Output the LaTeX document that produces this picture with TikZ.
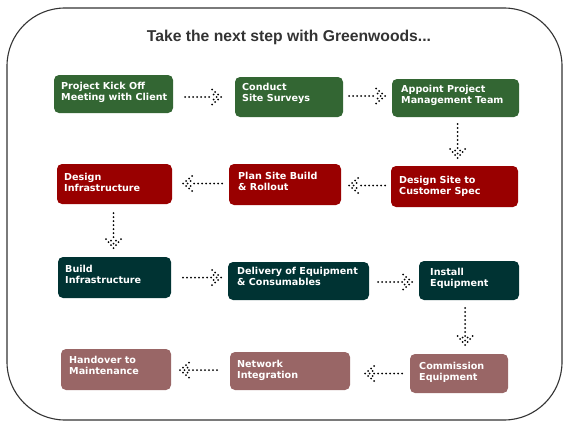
\documentclass[tikz,border=0pt]{standalone}
\usepackage{fontspec}
\setmainfont{DejaVu Sans}
\newfontfamily\titlefont{Liberation Sans}
\usetikzlibrary{calc,decorations.markings}
\definecolor{cgreen}{HTML}{336633}
\definecolor{cred}{HTML}{990000}
\definecolor{cteal}{HTML}{003333}
\definecolor{cmauve}{HTML}{996666}
\definecolor{cframe}{HTML}{333333}
\tikzset{
  box/.style={draw=none, rounded corners=5pt, inner sep=0pt, outer sep=0pt, anchor=north west},
  lbl/.style={anchor=north west, inner sep=0pt, text=white, align=left, font=\fontsize{9.6}{11.5}\selectfont\bfseries},
  darrow/.style={draw=none,
    postaction={decorate},
    decoration={markings,
      mark=between positions 0 and -9pt step 4pt with {\fill[black] (0,0) circle (1pt);},
      mark=at position 1 with {
      \foreach \p in {(0,0),(-3,2.5),(-6,5),(-9,7.5),(-3,-2.5),(-6,-5),(-9,-7.5),(-4.5,0),(-7.5,2.5),(-7.5,-2.5)}
        \fill[black] \p circle (1pt);
    }}},
}
\begin{document}
\begin{tikzpicture}[x=1pt,y=-1pt]
\useasboundingbox (0,0) rectangle (570,428);
\draw[cframe, line width=1.1pt, rounded corners=58pt] (7,8) rectangle (562,420);
\node[font=\titlefont\fontsize{15.7}{18}\selectfont\bfseries, text=cframe] (title) at (289,37) {Take the next step with Greenwoods...};
% row 1
\node[box, fill=cgreen, minimum width=119pt, minimum height=38pt] (b1) at (54,75) {};
\node[box, fill=cgreen, minimum width=108pt, minimum height=40pt] (b2) at (235,77) {};
\node[box, fill=cgreen, minimum width=127pt, minimum height=38pt] (b3) at (392,79) {};
% row 2
\node[box, fill=cred, minimum width=127pt, minimum height=41pt] (c1) at (391,166) {};
\node[box, fill=cred, minimum width=112pt, minimum height=41pt] (c2) at (229,164) {};
\node[box, fill=cred, minimum width=115pt, minimum height=40pt] (c3) at (57,164) {};
% row 3
\node[box, fill=cteal, minimum width=113pt, minimum height=41pt] (d1) at (58,257) {};
\node[box, fill=cteal, minimum width=141pt, minimum height=38pt] (d2) at (228,262) {};
\node[box, fill=cteal, minimum width=100pt, minimum height=39pt] (d3) at (419,261) {};
% row 4
\node[box, fill=cmauve, minimum width=98pt, minimum height=39pt] (e1) at (410,354) {};
\node[box, fill=cmauve, minimum width=120pt, minimum height=38pt] (e2) at (230,352) {};
\node[box, fill=cmauve, minimum width=110pt, minimum height=41pt] (e3) at (61,349) {};
% labels
\node[lbl] (t1) at ($(b1.north west)+(7,7)$) {Project Kick Off\\Meeting with Client};
\node[lbl] (t2) at ($(b2.north west)+(7,6)$) {Conduct\\Site Surveys};
\node[lbl] (t3) at ($(b3.north west)+(9,6)$) {Appoint Project\\Management Team};
\node[lbl] (u1) at ($(c1.north west)+(8,10)$) {Design Site to\\Customer Spec};
\node[lbl] (u2) at ($(c2.north west)+(9,8)$) {Plan Site Build\\\& Rollout};
\node[lbl] (u3) at ($(c3.north west)+(7,9)$) {Design\\Infrastructure};
\node[lbl] (v1) at ($(d1.north west)+(7,8)$) {Build\\Infrastructure};
\node[lbl] (v2) at ($(d2.north west)+(9,5)$) {Delivery of Equipment\\\& Consumables};
\node[lbl] (v3) at ($(d3.north west)+(11,7)$) {Install\\Equipment};
\node[lbl] (w1) at ($(e1.north west)+(9,8)$) {Commission\\Equipment};
\node[lbl] (w2) at ($(e2.north west)+(7,8)$) {Network\\Integration};
\node[lbl] (w3) at ($(e3.north west)+(8,7)$) {Handover to\\Maintenance};
% arrow end points
\coordinate (a1s) at ($(b1.east)+(12,3)$);
\coordinate (a1e) at ($(b2.west)+(-14,0)$);
\coordinate (a2s) at ($(b2.east)+(6,-1)$);
\coordinate (a2e) at ($(b3.west)+(-7,-2)$);
\coordinate (a3s) at ($(b3.south)+(2,7)$);
\coordinate (a3e) at ($(c1.north)+(2,-8)$);
\coordinate (a4s) at ($(c1.west)+(-6,-1)$);
\coordinate (a4e) at ($(c2.east)+(8,1)$);
\coordinate (a5s) at ($(c2.west)+(-7,-1)$);
\coordinate (a5e) at ($(c3.east)+(11,-1)$);
\coordinate (a6s) at ($(c3.south)+(-1,9)$);
\coordinate (a6e) at ($(d1.north)+(-1,-9)$);
\coordinate (a7s) at ($(d1.east)+(12,0)$);
\coordinate (a7e) at ($(d2.west)+(-7,-4)$);
\coordinate (a8s) at ($(d2.east)+(9,1)$);
\coordinate (a8e) at ($(d3.west)+(-7,1)$);
\coordinate (a9s) at ($(d3.south)+(-4,8)$);
\coordinate (a9e) at ($(e1.north)+(6,-9)$);
\coordinate (a10s) at ($(e1.west)+(-8,0)$);
\coordinate (a10e) at ($(e2.east)+(15,2)$);
\coordinate (a11s) at ($(e2.west)+(-13,-1)$);
\coordinate (a11e) at ($(e3.east)+(9,0)$);
% arrows
\draw[darrow] (a1s) -- (a1s -| a1e);
\draw[darrow] (a2s) -- (a2s -| a2e);
\draw[darrow] (a3s) -- (a3s |- a3e);
\draw[darrow] (a4s) -- (a4s -| a4e);
\draw[darrow] (a5s) -- (a5s -| a5e);
\draw[darrow] (a6s) -- (a6s |- a6e);
\draw[darrow] (a7s) -- (a7s -| a7e);
\draw[darrow] (a8s) -- (a8s -| a8e);
\draw[darrow] (a9s) -- (a9s |- a9e);
\draw[darrow] (a10s) -- (a10s -| a10e);
\draw[darrow] (a11s) -- (a11s -| a11e);
\end{tikzpicture}
\end{document}
